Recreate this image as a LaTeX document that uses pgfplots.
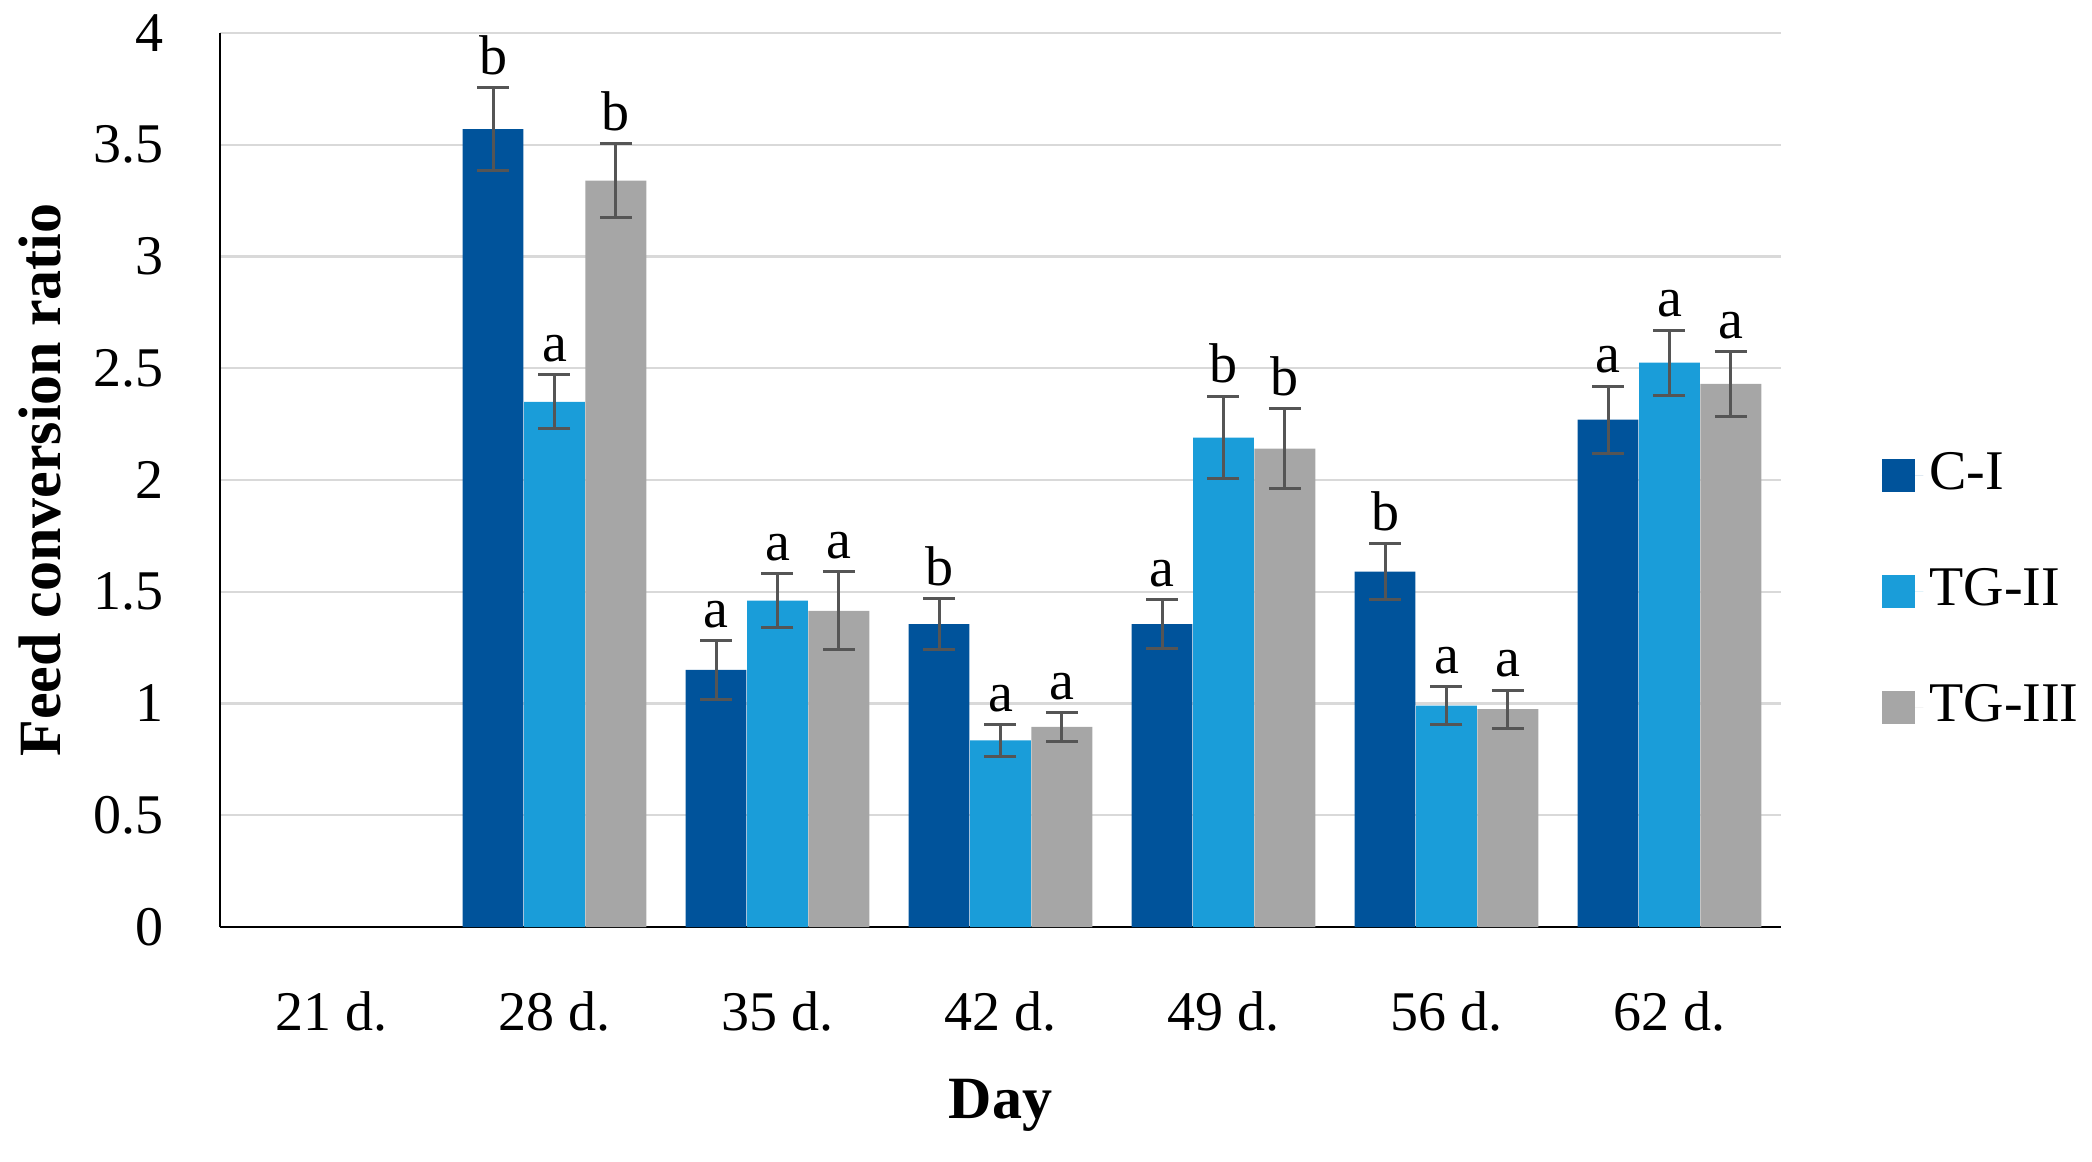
\documentclass[border=0pt]{standalone}
\usepackage{fontspec}
\setmainfont{Liberation Serif}
\usepackage{pgfplots}
\usepackage{pgfplotstable}
\pgfplotsset{compat=1.18}

\definecolor{cI}{HTML}{00539B}
\definecolor{tgII}{HTML}{1A9DD9}
\definecolor{tgIII}{HTML}{A6A6A6}
\definecolor{errc}{HTML}{555555}
\definecolor{gridc}{HTML}{D9D9D9}

% x = day index (1 = 28 d. ... 6 = 62 d.), y = mean, err = +-, lab = letter
\pgfplotstableread{
x y err lab
1 3.57 0.185 b
2 1.15 0.13 a
3 1.355 0.115 b
4 1.355 0.11 a
5 1.59 0.125 b
6 2.27 0.15 a
}\ci
\pgfplotstableread{
x y err lab
1 2.35 0.12 a
2 1.46 0.12 a
3 0.835 0.07 a
4 2.19 0.185 b
5 0.99 0.085 a
6 2.525 0.145 a
}\tgii
\pgfplotstableread{
x y err lab
1 3.34 0.165 b
2 1.415 0.175 a
3 0.895 0.065 a
4 2.14 0.18 b
5 0.975 0.085 a
6 2.43 0.145 a
}\tgiii

\begin{document}
\begin{tikzpicture}
\path[use as bounding box] (-55pt,-58.5pt) rectangle (468pt,231.75pt);
\begin{axis}[
    at={(0,0)}, anchor=south west,
    scale only axis,
    width=390.25pt, height=223.5pt,
    ybar=0.15pt, bar width=15.2pt,
    xmin=-0.5, xmax=6.5,
    ymin=0, ymax=4,
    enlargelimits=false,
    clip=false,
    xtick={0,...,6},
    xticklabels={21 d., 28 d., 35 d., 42 d., 49 d., 56 d., 62 d.},
    ytick={0,0.5,...,4},
    /pgf/number format/assume math mode=true,
    major tick length=0pt,
    axis x line*=bottom, axis y line*=left,
    axis line style={-, black, line width=0.7pt},
    ymajorgrids,
    grid style={gridc, line width=0.6pt},
    tick label style={font=\fontsize{14}{16}\selectfont},
    yticklabel style={anchor=east, inner sep=0pt, xshift=-14pt},
    xticklabel style={anchor=north, inner sep=0pt, yshift=-16pt},
    xlabel={Day},
    ylabel={Feed conversion ratio},
    label style={font=\bfseries\fontsize{15}{18}\selectfont},
    xlabel style={at={(axis description cs:0.5,-0.2)}, anchor=center},
    ylabel style={at={(axis description cs:-0.1153,0.5)}, anchor=center},
    legend style={at={(axis description cs:1,0.375)}, anchor=west, xshift=25pt,
        draw=none, fill=none, inner sep=0pt, row sep=13pt,
        font=\fontsize{14}{16}\selectfont,
        nodes={inner sep=1.5pt, text height=10pt, text depth=3pt}},
    legend cell align=left,
    legend image code/.code={\fill[#1] (0pt,-4.15pt) rectangle (8.3pt,4.15pt);
        \path (0pt,0pt) -- (10.4pt,0pt);},
    nodes near coords={\pgfplotspointmeta},
    point meta=explicit symbolic,
    visualization depends on={\thisrow{err} \as \err},
    every node near coord/.append style={anchor=south, inner sep=0pt,
        font=\fontsize{14}{16}\selectfont, text=black,
        yshift={\err*55.875pt+3pt}},
    error bars/y dir=both,
    error bars/y explicit,
    error bars/error bar style={errc, line width=0.75pt},
    error bars/error mark options={rotate=90, mark size=4pt, errc, line width=0.75pt},
]
\addplot[fill=cI, draw=none] table[x=x, y=y, y error=err, meta=lab] {\ci};
\addplot[fill=tgII, draw=none] table[x=x, y=y, y error=err, meta=lab] {\tgii};
\addplot[fill=tgIII, draw=none] table[x=x, y=y, y error=err, meta=lab] {\tgiii};
\legend{C-I, TG-II, TG-III}
\end{axis}
\end{tikzpicture}
\end{document}
